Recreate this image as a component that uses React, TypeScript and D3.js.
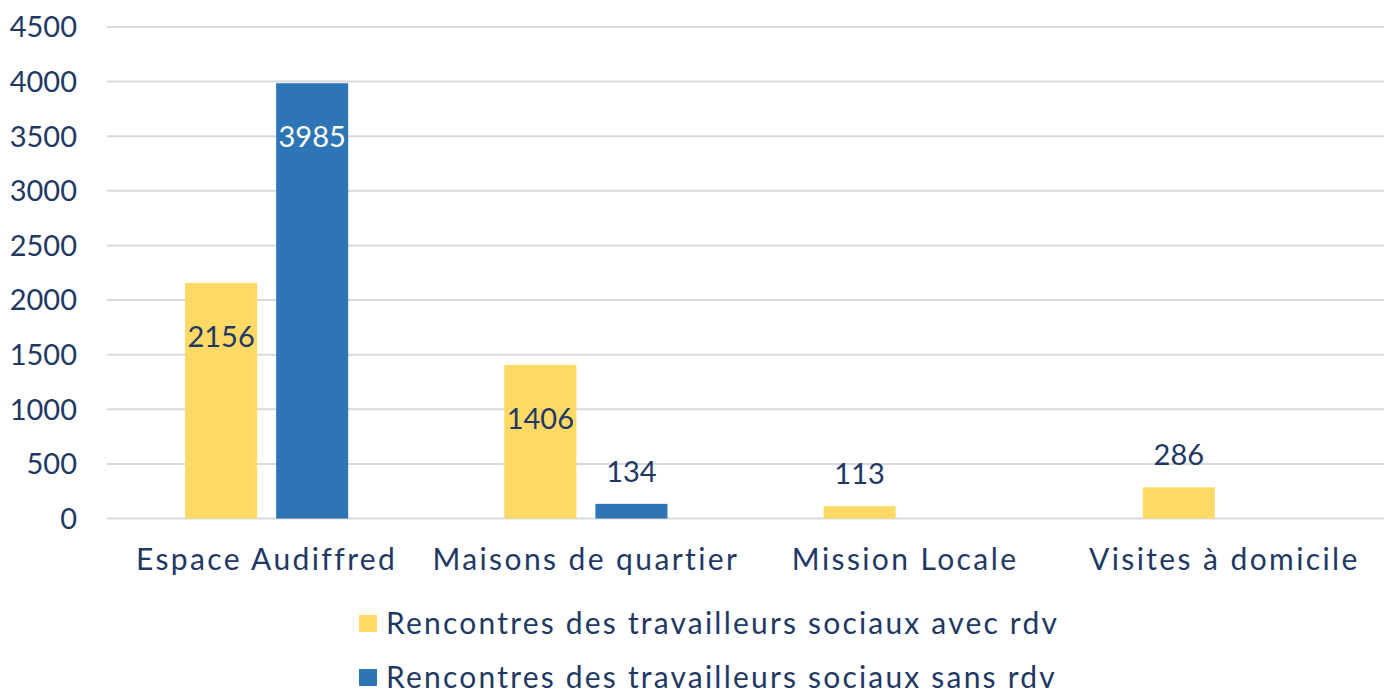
import React from "react";
import * as d3 from "d3";

const categories = ["Espace Audiffred", "Maisons de quartier", "Mission Locale", "Visites à domicile"];
const seriesNames = [
  "Rencontres des travailleurs sociaux avec rdv",
  "Rencontres des travailleurs sociaux sans rdv",
];
const avecRdv = [2156, 1406, 113, 286];
const sansRdv = [3985, 134, 0, 0];
const yTicks = [0, 500, 1000, 1500, 2000, 2500, 3000, 3500, 4000, 4500];

const W = 1392;
const H = 693;
const colors = ["#FFD966", "#2E75B6"];
const labelColors = ["#1F3864", "#FFFFFF"];
const textColor = "#1F3864";
const font = "Lato, 'DejaVu Sans', sans-serif";

export default function App() {
  const x0 = d3.scaleBand<string>().domain(categories).range([107, 1384]).padding(0);
  const bw = x0.bandwidth();
  const groupW = bw * 0.511;
  const x1 = d3
    .scaleBand<number>()
    .domain([0, 1])
    .range([(bw - groupW) / 2, (bw + groupW) / 2])
    .paddingInner(0.209)
    .paddingOuter(0);
  const y = d3.scaleLinear().domain([0, 4500]).range([518.5, 27]);
  const seriesData = [avecRdv, sansRdv];

  return (
    <svg width={W} height={H} style={{ position: "absolute", left: 0, top: 0, background: "#fff" }}>
      <rect width={W} height={H} fill="#fff" />
      {yTicks.map((t) => (
        <g key={t}>
          <line x1={107} x2={1384} y1={y(t)} y2={y(t)} stroke="#D9D9D9" strokeWidth={2} />
          <text
            x={77}
            y={y(t)}
            dy="0.36em"
            textAnchor="end"
            fontFamily={font}
            fontSize={29}
            fill={textColor}
          >
            {t}
          </text>
        </g>
      ))}
      {categories.map((c, ci) => (
        <g key={c} transform={`translate(${x0(c)},0)`}>
          {seriesData.map((vals, si) => {
            const v = vals[ci];
            if (!v) return null;
            const top = y(v);
            const h = y(0) - top;
            const inside = h > 100;
            return (
              <g key={si}>
                <rect x={x1(si)} y={top} width={x1.bandwidth()} height={h} fill={colors[si]} />
                <text
                  x={(x1(si) as number) + x1.bandwidth() / 2}
                  y={inside ? top + 64 : top - 22}
                  textAnchor="middle"
                  fontFamily={font}
                  fontSize={29}
                  fill={inside ? labelColors[si] : textColor}
                >
                  {v}
                </text>
              </g>
            );
          })}
          <text
            x={bw / 2}
            y={570}
            textAnchor="middle"
            fontFamily={font}
            fontSize={30}
            letterSpacing={2.4}
            fill={textColor}
          >
            {c}
          </text>
        </g>
      ))}
      {seriesNames.map((s, i) => (
        <g key={s} transform={`translate(0,${i * 54})`}>
          <rect x={359} y={615} width={18} height={17} fill={colors[i]} />
          <text x={386} y={634} fontFamily={font} fontSize={30} letterSpacing={2.2} fill={textColor}>
            {s}
          </text>
        </g>
      ))}
    </svg>
  );
}
